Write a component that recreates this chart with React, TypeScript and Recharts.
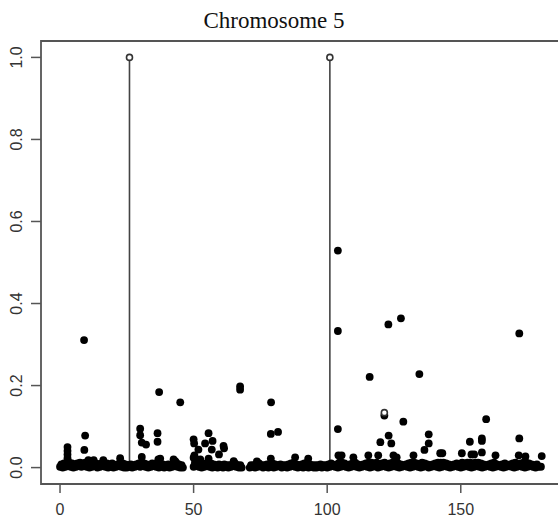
import React from 'react';
import {
  ScatterChart, Scatter, XAxis, YAxis, ReferenceLine, ReferenceArea,
} from 'recharts';

// background band, lower row: one small score per position (null = no marker)
const baseY: (number | null)[] = [
  0.002, 0.000, 0.002, 0.004, 0.002, 0.000, 0.002, 0.004, 0.002, 0.004,
  0.002, 0.000, 0.002, 0.004, 0.000, 0.002, 0.004, 0.002, 0.000, 0.002,
  0.000, 0.002, 0.004, 0.002, 0.000, 0.000, 0.002, 0.000, 0.002, 0.004,
  0.002, 0.004, 0.002, 0.000, 0.002, 0.004, 0.002, 0.000, 0.002, 0.000,
  0.002, 0.000, 0.002, 0.004, 0.002, 0.000, 0.000, null, null, null,
  0.002, 0.004, 0.002, 0.000, 0.002, 0.004, 0.002, 0.000, 0.002, 0.000,
  0.002, 0.000, 0.002, 0.000, 0.002, 0.004, 0.002, 0.000, 0.000, null,
  null, 0.000, 0.002, 0.000, 0.002, 0.004, 0.000, 0.002, 0.000, 0.002,
  0.000, 0.002, 0.004, 0.000, 0.002, 0.000, 0.002, 0.004, 0.002, 0.000,
  0.002, 0.000, 0.002, 0.000, 0.002, 0.000, 0.000, 0.002, 0.000, 0.002,
  0.000, 0.002, 0.004, 0.002, 0.000, 0.002, 0.004, 0.002, 0.000, 0.002,
  0.004, 0.002, 0.000, 0.002, 0.004, 0.002, 0.000, 0.002, 0.004, 0.000,
  0.002, 0.004, 0.002, 0.000, 0.002, 0.004, 0.002, 0.000, 0.002, 0.004,
  0.002, 0.000, 0.002, 0.004, 0.002, 0.000, 0.002, 0.004, 0.000, 0.002,
  0.004, 0.002, 0.000, 0.002, 0.004, 0.002, 0.000, 0.002, 0.004, 0.002,
  0.000, 0.002, 0.004, 0.002, 0.000, 0.002, 0.004, 0.002, 0.000, 0.002,
  0.004, 0.002, 0.000, 0.002, 0.004, 0.002, 0.000, 0.002, 0.004, 0.002,
  0.000, 0.002, 0.004, 0.002, 0.000, 0.002, 0.004, 0.002, 0.000, 0.002,
  0.002,
];

// background band, upper row: scores between positions (x + 0.5)
const baseY2: (number | null)[] = [
  0.008, 0.010, 0.008, 0.012, 0.010, 0.008, 0.010, 0.012, 0.010, 0.012,
  0.010, 0.012, 0.008, 0.010, 0.008, 0.010, 0.012, 0.010, 0.008, 0.010,
  0.006, 0.008, 0.012, 0.010, 0.008, 0.006, 0.008, 0.006, 0.008, 0.010,
  0.012, 0.010, 0.008, 0.006, 0.010, 0.008, 0.012, 0.010, 0.008, 0.006,
  0.008, 0.006, 0.010, 0.012, 0.008, 0.006, null, null, null, null,
  0.012, 0.010, 0.014, 0.010, 0.008, 0.012, 0.010, 0.008, 0.006, 0.008,
  0.006, 0.008, 0.006, 0.006, 0.008, 0.010, 0.006, 0.006, null, null,
  null, 0.006, 0.006, 0.008, 0.010, 0.006, 0.006, 0.008, 0.008, 0.010,
  0.008, 0.006, 0.008, 0.006, 0.006, 0.008, 0.010, 0.012, 0.008, 0.006,
  0.008, 0.010, 0.012, 0.008, 0.006, 0.006, 0.006, 0.008, 0.006, 0.006,
  0.008, 0.010, 0.006, 0.008, 0.012, 0.012, 0.010, 0.006, 0.008, 0.010,
  0.012, 0.008, 0.006, 0.008, 0.010, 0.012, 0.012, 0.010, 0.012, 0.008,
  0.010, 0.012, 0.008, 0.010, 0.012, 0.012, 0.010, 0.008, 0.006, 0.008,
  0.010, 0.012, 0.012, 0.010, 0.008, 0.012, 0.010, 0.008, 0.006, 0.008,
  0.010, 0.012, 0.012, 0.012, 0.010, 0.008, 0.006, 0.008, 0.010, 0.008,
  0.012, 0.010, 0.012, 0.012, 0.010, 0.012, 0.012, 0.010, 0.008, 0.006,
  0.008, 0.010, 0.012, 0.008, 0.006, 0.008, 0.010, 0.006, 0.008, 0.010,
  0.012, 0.008, 0.010, 0.012, 0.012, 0.010, 0.008, 0.006, 0.008, null,
];

// small bumps riding on the band
const bumps: [number, number][] = [
  [10.6, 0.018], [12.6, 0.018], [16.2, 0.018], [22.5, 0.023], [30.6, 0.026],
  [36.8, 0.02], [37.5, 0.022], [42.5, 0.02], [43.1, 0.016], [50, 0.024],
  [52.5, 0.02], [55.6, 0.022], [65, 0.016], [73.7, 0.015], [88, 0.025],
  [92.9, 0.022], [104.2, 0.03], [105.4, 0.03], [109.8, 0.025], [115.4, 0.03],
  [119.1, 0.03], [124.8, 0.03], [126, 0.025], [132.3, 0.03], [142.3, 0.035],
  [143.1, 0.035], [150.4, 0.035], [154, 0.032], [155, 0.032], [163, 0.03],
  [171.7, 0.03], [174.2, 0.027], [180.3, 0.028],
];

// higher scores
const peaks: [number, number][] = [
  [9.0, 0.311], [9.4, 0.078], [9.1, 0.043],
  [2.8, 0.05], [2.8, 0.041], [2.8, 0.032], [2.8, 0.023],
  [30, 0.095], [30, 0.079], [30.6, 0.061], [32.2, 0.056],
  [37.1, 0.184], [36.5, 0.084], [36.5, 0.063], [45, 0.159],
  [50, 0.069], [50.2, 0.059], [50.3, 0.03], [51.8, 0.044], [54.3, 0.059],
  [55.6, 0.084], [57.1, 0.065], [56.8, 0.044], [59.5, 0.032], [61.2, 0.053],
  [61.4, 0.047], [67.4, 0.198], [67.4, 0.19],
  [79.0, 0.159], [78.9, 0.082], [81.6, 0.087], [78.9, 0.022],
  [104, 0.529], [104, 0.333], [104, 0.094],
  [115.9, 0.221], [122.9, 0.349], [127.6, 0.364], [134.5, 0.228], [171.9, 0.327],
  [121.4, 0.127], [128.5, 0.112], [119.9, 0.062], [123, 0.078], [124, 0.059],
  [138, 0.081], [138, 0.059], [136.4, 0.043], [159.5, 0.118], [157.9, 0.071],
  [157.9, 0.065], [153.4, 0.063], [171.9, 0.071], [157.9, 0.037],
];

// open circles
const hollow: [number, number][] = [[26, 1], [101, 1], [121.4, 0.134]];
const spikeX = [26, 101];

const xTicks = [0, 50, 100, 150];
const yTicks = [0, 0.2, 0.4, 0.6, 0.8, 1.0];

const X_DOMAIN: [number, number] = [-7.12, 195];
const Y_DOMAIN: [number, number] = [-0.04, 1.04];

const toPts = (arr: [number, number][]) => arr.map(([x, y]) => ({ x, y }));

const rowPts = (ys: (number | null)[], offset: number) =>
  ys.map((y, i) => (y == null ? null : { x: i + offset, y }))
    .filter(Boolean) as { x: number; y: number }[];

const Dot = (p: any) => <circle cx={p.cx} cy={p.cy} r={3.9} fill="#000" />;
const OpenDot = (p: any) => (
  <circle cx={p.cx} cy={p.cy} r={3} fill="#fff" stroke="#333" strokeWidth={1.6} />
);

const XTick = ({ x, y, payload }: any) => (
  <text x={x} y={y + 20} textAnchor="middle" fontFamily="'Liberation Sans', Arial, sans-serif"
    fontSize={16} fill="#333">{payload.value}</text>
);

const YTick = ({ x, y, payload }: any) => (
  <text x={x - 12} y={y} textAnchor="middle" dominantBaseline="central"
    transform={`rotate(-90, ${x - 12}, ${y})`}
    fontFamily="'Liberation Sans', Arial, sans-serif" fontSize={16} fill="#333">
    {Number(payload.value).toFixed(1)}
  </text>
);

export default function App() {
  return (
    <div style={{ position: 'fixed', left: 0, top: 0, width: 558, height: 527, overflow: 'hidden', background: '#fff' }}>
      <div style={{
        position: 'absolute', left: 0, top: 10, width: 548, textAlign: 'center',
        fontFamily: "'Liberation Serif', 'Times New Roman', serif", fontSize: 23, lineHeight: '22px', color: '#111',
      }}>
        Chromosome 5
      </div>
      <ScatterChart width={581} height={527} margin={{ top: 41, right: 0, bottom: 0, left: 0 }}>
        <XAxis type="number" dataKey="x" domain={X_DOMAIN} ticks={xTicks} allowDataOverflow
          height={43} axisLine={false} tickSize={9} tickLine={{ stroke: '#555', strokeWidth: 1.5 }}
          tick={<XTick />} interval={0} />
        <YAxis type="number" dataKey="y" domain={Y_DOMAIN} ticks={yTicks} allowDataOverflow
          width={41} axisLine={false} tickSize={10} tickLine={{ stroke: '#555', strokeWidth: 1.5 }}
          tick={<YTick />} interval={0} />
        <ReferenceArea x1={X_DOMAIN[0]} x2={X_DOMAIN[1]} y1={Y_DOMAIN[0]} y2={Y_DOMAIN[1]}
          fill="none" fillOpacity={0} stroke="#555" strokeWidth={1.8} ifOverflow="visible" />
        {spikeX.map((sx) => (
          <ReferenceLine key={sx} segment={[{ x: sx, y: 0 }, { x: sx, y: 1 }]}
            stroke="#444" strokeWidth={1.6} />
        ))}
        <Scatter data={rowPts(baseY, 0)} shape={Dot} isAnimationActive={false} />
        <Scatter data={rowPts(baseY2, 0.5)} shape={Dot} isAnimationActive={false} />
        <Scatter data={toPts(bumps)} shape={Dot} isAnimationActive={false} />
        <Scatter data={toPts(peaks)} shape={Dot} isAnimationActive={false} />
        <Scatter data={toPts(hollow)} shape={OpenDot} isAnimationActive={false} />
      </ScatterChart>
    </div>
  );
}
